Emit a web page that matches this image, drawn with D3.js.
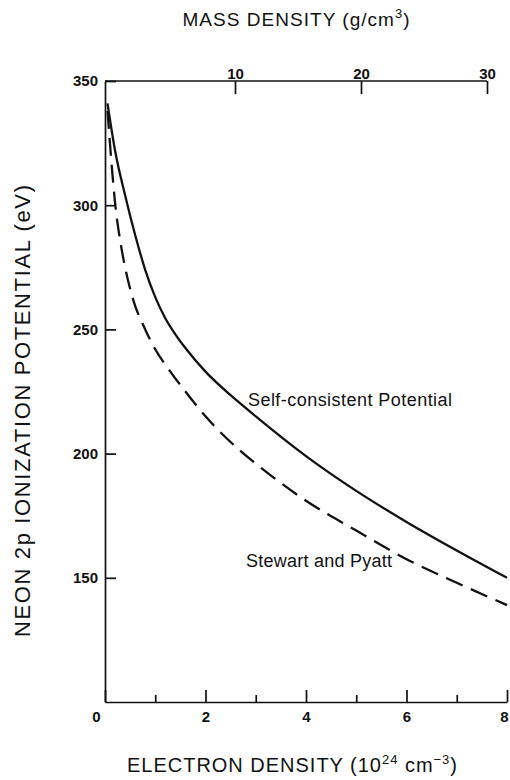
<!DOCTYPE html>
<html>
<head>
<meta charset="utf-8">
<script src="https://cdn.jsdelivr.net/npm/d3@7"></script>
<style>
  html, body { margin: 0; padding: 0; background: #fff; }
  svg { display: block; }
  text { font-family: "Liberation Sans", Arial, Helvetica, sans-serif; fill: #111; }
</style>
</head>
<body>
<script>
'use strict';

// data: electron density (10^24 cm^-3) vs. ionization potential (eV)
const selfConsistentDensity = [0.05, 0.2, 0.4, 0.6, 0.8, 1.0, 1.2, 1.4, 1.6, 2.0, 2.5, 3.0, 4.0, 5.0, 6.0, 7.0, 8.0];
const selfConsistentEnergy = [341, 322, 304, 288, 274, 263, 254.5, 248, 242.5, 233, 223.5, 215, 199, 185, 172.5, 161, 150];

const stewartPyattDensity = [0.05, 0.15, 0.2, 0.3, 0.4, 0.56, 0.8, 1.0, 1.3, 1.6, 2.0, 2.7, 3.0, 4.0, 5.0, 6.0, 7.0, 8.0];
const stewartPyattEnergy = [338, 312, 301, 286, 275, 262, 250, 242, 233, 225, 215, 201, 196, 181, 169, 157.5, 148, 139];

// tick values
const electronTicksMajor = [0, 2, 4, 6, 8];
const electronTicksMinor = [1, 3, 5, 7];
const massTicks = [10, 20, 30];
const energyTicks = [150, 200, 250, 300, 350];

(function () {

  let svg = d3.select('body')
    .append('svg')
    .attr('width', 510)
    .attr('height', 780);

  // scales
  let xScale = d3.scaleLinear().domain([0, 8]).range([105, 507]);
  let yScale = d3.scaleLinear().domain([100, 350]).range([702, 81]);
  let massScale = d3.scaleLinear().domain([0, 30]).range([109, 487]);

  // bottom axis, minor ticks first (no labels)
  svg.append('g')
    .attr('transform', 'translate(0,' + yScale(100) + ')')
    .call(d3.axisBottom(xScale).tickValues(electronTicksMinor)
      .tickSizeInner(-7).tickSizeOuter(0).tickFormat(''))
    .call(g => g.select('.domain').remove());

  let bottomAxis = svg.append('g')
    .attr('transform', 'translate(0,' + yScale(100) + ')')
    .call(d3.axisBottom(xScale).tickValues(electronTicksMajor)
      .tickSizeInner(-12).tickSizeOuter(0).tickPadding(9).tickFormat(d3.format('d')));
  // first label sits left of the corner, last one is pulled in from the edge
  bottomAxis.selectAll('.tick text').filter(d => d === 0).attr('dx', -9);
  bottomAxis.selectAll('.tick text').filter(d => d === 8).attr('dx', -3);

  // left axis
  svg.append('g')
    .attr('transform', 'translate(' + xScale(0) + ',0)')
    .call(d3.axisLeft(yScale).tickValues(energyTicks)
      .tickSizeInner(-11).tickSizeOuter(0).tickPadding(7));

  // top axis (mass density)
  svg.append('g')
    .attr('transform', 'translate(0,' + yScale(350) + ')')
    .call(d3.axisTop(massScale).tickValues(massTicks)
      .tickSizeInner(-13).tickSizeOuter(0).tickPadding(2))
    .call(g => g.select('.domain').remove());

  svg.append('line')
    .attr('x1', xScale(0)).attr('x2', massScale(30))
    .attr('y1', yScale(350)).attr('y2', yScale(350))
    .attr('stroke', '#111').attr('stroke-width', 1.7);

  // axis styling
  svg.selectAll('.domain, .tick line')
    .attr('stroke', '#111')
    .attr('stroke-width', 1.7);
  svg.selectAll('.tick text')
    .style('font-family', '"Liberation Sans", Arial, sans-serif')
    .style('font-size', '15px')
    .style('font-weight', 'bold')
    .attr('fill', '#111');

  // curves
  let line = d3.line()
    .x(d => xScale(d[0]))
    .y(d => yScale(d[1]))
    .curve(d3.curveMonotoneX);

  let selfConsistent = selfConsistentDensity.map((n, i) => [n, selfConsistentEnergy[i]]);
  let stewartPyatt = stewartPyattDensity.map((n, i) => [n, stewartPyattEnergy[i]]);

  svg.append('path')
    .datum(selfConsistent)
    .attr('fill', 'none')
    .attr('stroke', '#111')
    .attr('stroke-width', 2.3)
    .attr('d', line);

  svg.append('path')
    .datum(stewartPyatt)
    .attr('fill', 'none')
    .attr('stroke', '#111')
    .attr('stroke-width', 2.3)
    .attr('stroke-dasharray', '18,9')
    .attr('d', line);

  // curve labels
  svg.append('text')
    .attr('x', 248).attr('y', 406)
    .attr('textLength', 204)
    .style('font-size', '18px')
    .text('Self-consistent Potential');

  svg.append('text')
    .attr('x', 246).attr('y', 567)
    .attr('textLength', 146)
    .style('font-size', '18px')
    .text('Stewart and Pyatt');

  // axis titles
  let top = svg.append('text')
    .attr('x', 296).attr('y', 26)
    .attr('text-anchor', 'middle')
    .attr('textLength', 227)
    .style('font-size', '19px');
  top.append('tspan').text('MASS DENSITY (g/cm');
  top.append('tspan').attr('dy', -8).style('font-size', '13px').text('3');
  top.append('tspan').attr('dy', 8).text(')');

  let bottom = svg.append('text')
    .attr('x', 292).attr('y', 772)
    .attr('text-anchor', 'middle')
    .attr('textLength', 330)
    .style('font-size', '20px');
  bottom.append('tspan').text('ELECTRON DENSITY (10');
  bottom.append('tspan').attr('dy', -8).style('font-size', '13px').text('24');
  bottom.append('tspan').attr('dy', 8).text(' cm');
  bottom.append('tspan').attr('dy', -8).style('font-size', '13px').text('\u22123');
  bottom.append('tspan').attr('dy', 8).text(')');

  svg.append('text')
    .attr('transform', 'translate(30,411)rotate(-90)')
    .attr('text-anchor', 'middle')
    .attr('textLength', 452)
    .style('font-size', '22px')
    .text('NEON 2p IONIZATION POTENTIAL (eV)');

})();
</script>
</body>
</html>
